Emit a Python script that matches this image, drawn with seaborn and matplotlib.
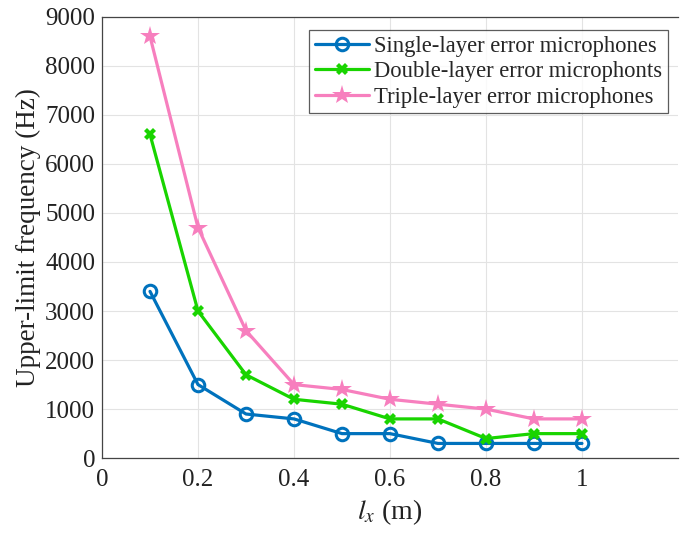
import numpy as np
import pandas as pd
import matplotlib
matplotlib.use("Agg")
import matplotlib.pyplot as plt
import seaborn as sns

x_vals = [0.1, 0.2, 0.3, 0.4, 0.5, 0.6, 0.7, 0.8, 0.9, 1.0]
single = [3400, 1500, 900, 800, 500, 500, 300, 300, 300, 300]
double = [6600, 3000, 1700, 1200, 1100, 800, 800, 400, 500, 500]
triple = [8600, 4700, 2600, 1500, 1400, 1200, 1100, 1000, 800, 800]
labels = ["Single-layer error microphones",
          "Double-layer error microphonts",
          "Triple-layer error microphones"]
colors = ["#0072BD", "#19D400", "#F77FBE"]

sns.set_theme(style="whitegrid")
plt.rcParams['font.family'] = ['Liberation Serif', 'DejaVu Serif']
plt.rcParams['mathtext.fontset'] = 'stix'

fig = plt.figure(figsize=(6.8, 5.39), dpi=100)
ax = fig.add_axes([0.15, 0.150, 0.847, 0.819])

specs = [
    dict(marker='o', markersize=9, markerfacecolor='none', markeredgewidth=2.2),
    dict(marker='X', markersize=9, markeredgewidth=0),
    dict(marker='*', markersize=15, markeredgewidth=0),
]
for ys, lab, col, sp in zip([single, double, triple], labels, colors, specs):
    df = pd.DataFrame({"x": x_vals, "y": ys})
    sns.lineplot(data=df, x="x", y="y", ax=ax, color=col, linewidth=2.3,
                 markeredgecolor=col, label=lab, **sp)

ax.set_xlim(0, 1.2)
ax.set_ylim(0, 9000)
ax.set_xticks([0, 0.2, 0.4, 0.6, 0.8, 1.0])
ax.set_xticklabels(["0", "0.2", "0.4", "0.6", "0.8", "1"])
ax.set_yticks(np.arange(0, 9001, 1000))
ax.tick_params(axis='both', labelsize=18, direction='in', length=4,
               color='#444444', colors='#222222')
ax.tick_params(axis='x', pad=8)
ax.tick_params(axis='y', pad=5)
ax.set_facecolor('white')
ax.grid(True, color='#e3e3e3', linewidth=0.8)
for s in ['left', 'bottom', 'top']:
    ax.spines[s].set_color('#444444')
    ax.spines[s].set_linewidth(0.9)
ax.spines['right'].set_visible(False)

ax.set_ylabel("Upper-limit frequency (Hz)", fontsize=19.5, color='#222222', labelpad=3)
ax.set_xlabel(r"$l_x$ (m)", fontsize=20, color='#222222', labelpad=4)

leg = ax.legend(loc='upper right', bbox_to_anchor=(0.99, 0.98), fontsize=16.3,
                frameon=True, fancybox=False, edgecolor='#333333',
                handlelength=2.4, borderpad=0.25, labelspacing=0.2,
                handletextpad=0.2, borderaxespad=0.2)
leg.get_frame().set_linewidth(0.9)

fig.savefig("out.png", dpi=100, facecolor='white')
